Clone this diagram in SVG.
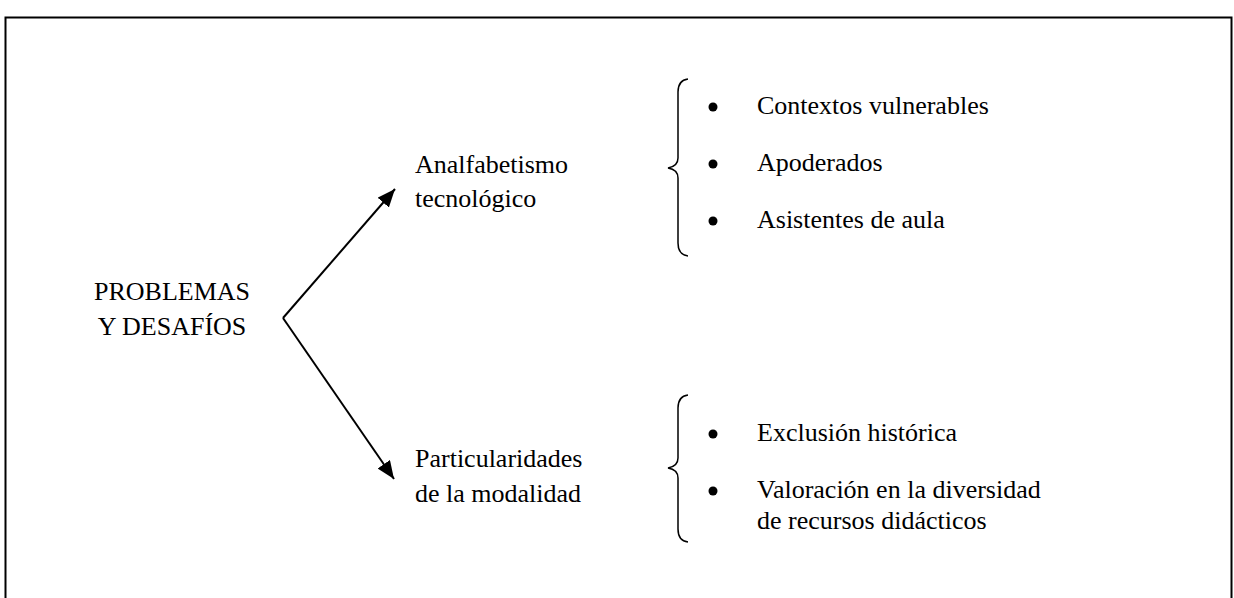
<svg xmlns="http://www.w3.org/2000/svg" width="1234" height="598" viewBox="0 0 1234 598">
<style>
text{font-family:"Liberation Serif","Times New Roman",serif;font-size:26px;fill:#000}
.ln{fill:none;stroke:#000;stroke-width:2}
.br{fill:none;stroke:#000;stroke-width:1.5}
</style>
<defs>
<marker id="a2" viewBox="0 0 18 15" refX="18" refY="7.5" markerWidth="18" markerHeight="15" markerUnits="userSpaceOnUse" orient="auto">
<path d="M0,0 L18,7.5 L0,15 z" fill="#000"/>
</marker>
</defs>
<rect x="5.5" y="17.5" width="1226" height="600" fill="#fff" stroke="#000" stroke-width="2"/>
<g id="connectors">
<path class="ln" d="M283,318 L395,189" marker-end="url(#a2)"/>
<path class="ln" d="M283,318 L394,479" marker-end="url(#a2)"/>
</g>
<g id="root"><text x="172" y="300" text-anchor="middle">PROBLEMAS</text><text x="172" y="335" text-anchor="middle">Y DESAFÍOS</text></g>
<g id="n1"><text x="415" y="173">Analfabetismo</text><text x="415" y="207">tecnológico</text></g>
<g id="n2"><text x="415" y="467">Particularidades</text><text x="415" y="502">de la modalidad</text></g>
<g id="list1">
<path class="br" d="M688,79 C680,80 678,85 678,92 L678,158 C678,164 674,167 668,168 C674,169 678,172 678,178 L678,243 C678,250 680,255 688,256"/>
<circle cx="713" cy="107" r="4.5"/><text x="757" y="114">Contextos vulnerables</text>
<circle cx="713" cy="164" r="4.5"/><text x="757" y="171">Apoderados</text>
<circle cx="713" cy="221" r="4.5"/><text x="757" y="228">Asistentes de aula</text>
</g>
<g id="list2">
<path class="br" d="M688,395 C680,396 678,401 678,408 L678,458 C678,464 674,467 668,468 C674,469 678,472 678,478 L678,529 C678,536 680,541 688,542"/>
<circle cx="713" cy="434" r="4.5"/><text x="757" y="441">Exclusión histórica</text>
<circle cx="713" cy="491" r="4.5"/><text x="757" y="498">Valoración en la diversidad</text>
<text x="757" y="529">de recursos didácticos</text>
</g>
</svg>
